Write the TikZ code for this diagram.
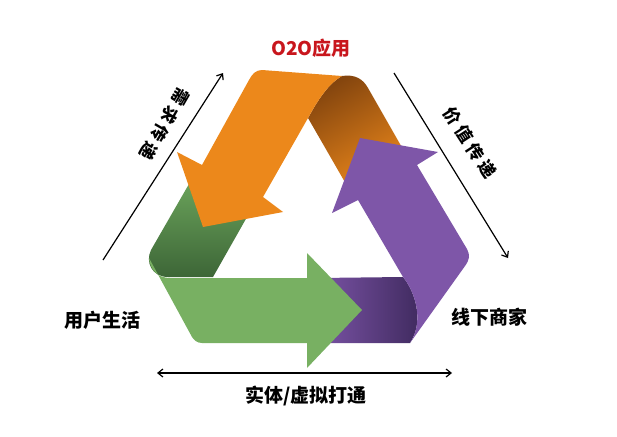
\documentclass[tikz,border=0pt]{standalone}
\usepackage{fontspec}
\newfontfamily\cjk{Noto Sans CJK SC}[BoldFont={Noto Sans CJK SC Black}]
\usetikzlibrary{arrows.meta}

\definecolor{appred}{HTML}{C8161D}
\definecolor{orangeband}{HTML}{EC881B}
\definecolor{orangedark}{HTML}{84450E}
\definecolor{greenband}{HTML}{78B062}
\definecolor{greenlight}{HTML}{6CA55C}
\definecolor{greendark}{HTML}{3D6637}
\definecolor{purpleband}{HTML}{7E56A8}
\definecolor{purplelight}{HTML}{7A53A5}
\definecolor{purpledark}{HTML}{3E295D}

\begin{document}
\begin{tikzpicture}[x=1pt,y=-1pt,every node/.style={inner sep=0pt,font=\cjk\bfseries\fontsize{19}{19}\selectfont}]

  \useasboundingbox (0,0) rectangle (617,436);

  % Folds of the three ribbons (shaded)
  \shade[top color=orangedark,bottom color=orangeband,shading angle=30]
    (342,76) .. controls (355,74) and (363,79) .. (368,88) -- (408,158) -- (350,191)
    -- (308,118) .. controls (318,100) and (328,84) .. (342,76) -- cycle;
  \shade[top color=greenlight,bottom color=greendark]
    (193,177) -- (251,210) -- (213,277) -- (168,277) .. controls (152,277) and (145,262) .. (151,250) -- cycle;
  \shade[left color=purplelight,right color=purpledark]
    (318,278) -- (403,277) .. controls (416,293) and (424,322) .. (410,343) -- (318,343) -- cycle;

  % Ribbons with their arrow heads
  \fill[orangeband] (342,76) -- (262,70) .. controls (256,70) and (252,74) .. (249,80) -- (202,165)
    -- (177,152) -- (203,227) -- (283,212) -- (263,197)
    -- (308,118) .. controls (318,100) and (328,84) .. (342,76) -- cycle;
  \fill[greenband] (149,258) .. controls (150,270) and (158,278) .. (170,278) -- (307,278)
    -- (307,253) -- (362,310) -- (307,368) -- (307,343)
    -- (202,343) .. controls (197,343) and (194,340) .. (192,337) -- cycle;
  \fill[purpleband] (403,277) .. controls (416,293) and (424,322) .. (410,343) -- (465,266)
    .. controls (470,259) and (470,255) .. (467,249) -- (417,165)
    -- (438,152) -- (360,138) -- (332,213) -- (358,200) -- cycle;

  % Specification of nodes (position, etc.)
  \node (app) at (311,48) [text=appred] {O2O应用};
  \node (user) at (102,320) {用户生活};
  \node (shop) at (489,317) {线下商家};
  \node (link) at (306,396) {实体/虚拟打通};
  \begin{scope}[every node/.append style={font=\cjk\bfseries\fontsize{17}{17}\selectfont\addfontfeature{LetterSpace=24}}]
    \node (need) at (165,124) [rotate=-120] {需求传递};
    \node (value) at (470,143) [rotate=-57] {价值传递};
  \end{scope}

  \coordinate (n0) at (103,260);
  \coordinate (n1) at (223,73);
  \coordinate (v0) at (394,73);
  \coordinate (v1) at (508,258);
  \coordinate (l0) at (157,373);
  \coordinate (l1) at (452,373);

  \begin{scope}[line width=1.2pt,>={Straight Barb[length=5pt,width=8pt]}]
    \draw[->] (n0) to (n1);
    \draw[->] (v0) to (v1);
    \draw[<->] (l0) to (l1);
  \end{scope}

\end{tikzpicture}
\end{document}
